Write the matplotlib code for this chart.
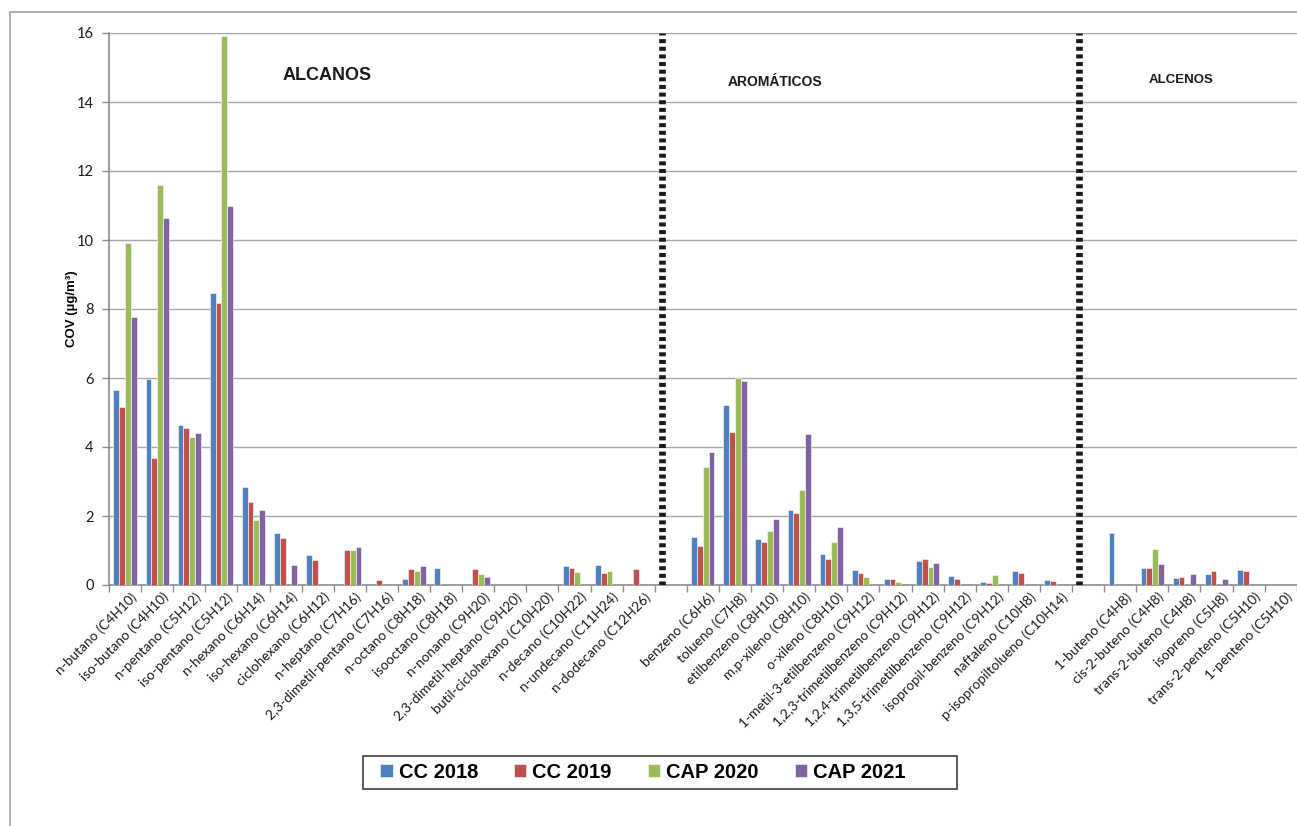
import numpy as np
import matplotlib
matplotlib.use("Agg")
import matplotlib.pyplot as plt
from matplotlib.patches import Rectangle
from matplotlib.lines import Line2D

plt.rcParams['lines.scale_dashes'] = False

categories = [
    "n-butano (C4H10)", "iso-butano (C4H10)", "n-pentano (C5H12)", "iso-pentano (C5H12)",
    "n-hexano (C6H14)", "iso-hexano (C6H14)", "ciclohexano (C6H12)", "n-heptano (C7H16)",
    "2,3-dimetil-pentano (C7H16)", "n-octano (C8H18)", "isooctano (C8H18)", "n-nonano (C9H20)",
    "2,3-dimetil-heptano (C9H20)", "butil-ciclohexano (C10H20)", "n-decano (C10H22)",
    "n-undecano (C11H24)", "n-dodecano (C12H26)", "",
    "benzeno (C6H6)", "tolueno (C7H8)", "etilbenzeno (C8H10)", "m,p-xileno (C8H10)",
    "o-xileno (C8H10)", "1-metil-3-etilbenzeno (C9H12)", "1,2,3-trimetilbenzeno (C9H12)",
    "1,2,4-trimetilbenzeno (C9H12)", "1,3,5-trimetilbenzeno (C9H12)",
    "isopropil-benzeno (C9H12)", "naftaleno (C10H8)", "p-isopropiltolueno (C10H14)", "",
    "1-buteno (C4H8)", "cis-2-buteno (C4H8)", "trans-2-buteno (C4H8)", "isopreno (C5H8)",
    "trans-2-penteno (C5H10)", "1-penteno (C5H10)",
]
nan = np.nan
cc2018 = [5.66, 5.98, 4.65, 8.45, 2.84, 1.50, 0.87, nan, nan, 0.17, 0.49, nan, nan, nan, 0.55, 0.58, nan, nan,
          1.39, 5.23, 1.33, 2.17, 0.90, 0.43, 0.17, 0.71, 0.25, 0.08, 0.41, 0.14, nan,
          1.52, 0.49, 0.20, 0.33, 0.43, nan]
cc2019 = [5.16, 3.69, 4.56, 8.17, 2.41, 1.37, 0.72, 1.01, 0.15, 0.47, nan, 0.46, nan, nan, 0.50, 0.35, 0.47, nan,
          1.14, 4.43, 1.24, 2.09, 0.76, 0.35, 0.18, 0.76, 0.18, 0.07, 0.35, 0.12, nan,
          nan, 0.50, 0.23, 0.41, 0.41, nan]
cap2020 = [9.90, 11.6, 4.30, 15.9, 1.87, nan, nan, 1.01, nan, 0.41, nan, 0.31, nan, nan, 0.38, 0.40, nan, nan,
           3.43, 5.99, 1.57, 2.74, 1.26, 0.23, 0.10, 0.51, nan, 0.30, nan, nan, nan,
           nan, 1.04, nan, nan, nan, nan]
cap2021 = [7.77, 10.64, 4.42, 11.0, 2.17, 0.59, nan, 1.11, nan, 0.54, nan, 0.24, nan, nan, nan, nan, nan, nan,
           3.86, 5.92, 1.92, 4.38, 1.69, nan, nan, 0.65, nan, nan, nan, nan, nan,
           nan, 0.61, 0.31, 0.17, nan, nan]
series = [("CC 2018", cc2018, "#4F81BD"), ("CC 2019", cc2019, "#C0504D"),
          ("CAP 2020", cap2020, "#9BBB59"), ("CAP 2021", cap2021, "#8064A2")]
separator_idx = [17, 30]
group_labels = [("ALCANOS", 6.3, 14.78, 13), ("AROMÁTICOS", 20.25, 14.58, 10), ("ALCENOS", 32.9, 14.64, 9.5)]

W, H = 1297, 826
fig = plt.figure(figsize=(W / 100, H / 100), dpi=100)
fig.patches.append(Rectangle((10 / W, -0.1), 1.2, 1 - 12 / H + 0.1, transform=fig.transFigure,
                             fill=False, edgecolor="#a0a0a0", linewidth=1.2))

ax = fig.add_axes([109 / W, 1 - 585 / H, (37 * 32.1) / W, (585 - 33) / H])
n = len(categories)
x = np.arange(n)
bw = 0.18
for i, (name, vals, col) in enumerate(series):
    ax.bar(x + (i - 1.5) * bw, vals, width=bw, color=col, edgecolor="white", linewidth=0.4, label=name, zorder=3)

for s in separator_idx:
    ax.add_line(Line2D([s - 1.5 * bw, s - 1.5 * bw], [0, 16], color="#1a1a1a", linewidth=4.8,
                       dashes=(2.9, 2.6), solid_capstyle="butt", dash_capstyle="butt", zorder=4))

ax.set_xlim(-0.5, n - 0.5)
ax.set_ylim(0, 16)
ax.set_yticks(np.arange(0, 17, 2))
ax.yaxis.grid(True, color="#a6a6a6", linewidth=1.0, zorder=0)
ax.set_axisbelow(True)
for side in ["top", "right"]:
    ax.spines[side].set_visible(False)
for side in ["left", "bottom"]:
    ax.spines[side].set_color("#8c8c8c")
    ax.spines[side].set_linewidth(1.2)

ax.set_xticks(np.arange(n + 1) - 0.5)
ax.set_xticklabels([])
ax.tick_params(axis="x", direction="out", length=5, color="#8c8c8c", width=1)
ax.tick_params(axis="y", direction="out", length=5, color="#8c8c8c", width=1, labelsize=10.5, pad=6)
for lab in ax.get_yticklabels():
    lab.set_fontfamily("Lato")
    lab.set_color("#1a1a1a")

for i, c in enumerate(categories):
    if c:
        ax.annotate(c, xy=(i + 0.3, 0), xycoords=("data", "axes fraction"), xytext=(0, -10),
                    textcoords="offset pixels", rotation=45, rotation_mode="anchor",
                    ha="right", va="center", fontsize=9.8, family="Lato", color="#1a1a1a")

ax.set_ylabel("COV (µg/m³)", fontsize=9.5, fontweight="bold", family="Liberation Sans", labelpad=-1)

for txt, xc, yc, fs in group_labels:
    ax.text(xc, yc, txt, fontsize=fs, fontweight="bold", family="Liberation Sans",
            ha="center", va="center", color="#1a1a1a")

fig.patches.append(Rectangle((363 / W, 1 - 789 / H), (957 - 363) / W, 33 / H, transform=fig.transFigure,
                             fill=False, edgecolor="#404040", linewidth=1.2, zorder=5))
leg = fig.legend(loc="center", bbox_to_anchor=(643 / W, 1 - 772 / H), ncol=4,
                 prop={"family": "Liberation Sans", "weight": "bold", "size": 14.5},
                 handlelength=0.6, handleheight=0.6, handletextpad=0.3, columnspacing=1.8,
                 frameon=False, borderpad=0.2)

fig.savefig("out.png", dpi=100)
